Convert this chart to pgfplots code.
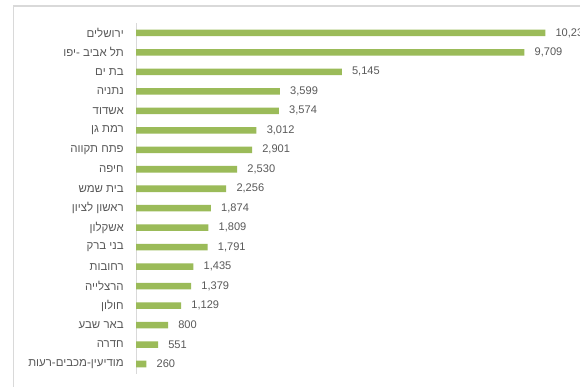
\documentclass[border=0pt]{standalone}
\usepackage{fontspec}
\setmainfont{Liberation Sans}
\newfontfamily\hebfont[Script=Hebrew]{Liberation Sans}
\TeXXeTstate=1
\usepackage{pgfplots}
\pgfplotsset{compat=1.18}
\definecolor{bargreen}{HTML}{9BBB59}
\definecolor{txtgray}{HTML}{595959}
\definecolor{linegray}{HTML}{D9D9D9}
\begin{document}
\begin{tikzpicture}
\useasboundingbox (0,0) rectangle (435pt,289.5pt);
\fill[white] (0,0) rectangle (435pt,289.5pt);
\draw[linegray, line width=0.8pt] (9.9pt,-20pt) -- (9.9pt,285pt) -- (460pt,285pt);
\begin{axis}[
  at={(102pt,9.2pt)}, anchor=south west,
  scale only axis, width=330pt, height=262.9pt,
  xbar, bar width=4.9pt,
  xmin=0, xmax=11000,
  ymin=-0.5, ymax=17.5, y dir=reverse,
  axis x line=none, axis y line=left,
  y axis line style={draw=linegray, -, line width=0.7pt},
  ytick={0,...,17},
  major tick length=0pt,
  yticklabels={
    {\hebfont\beginR ירושלים\endR},
    {\hebfont\beginR תל אביב -יפו\endR},
    {\hebfont\beginR בת ים\endR},
    {\hebfont\beginR נתניה\endR},
    {\hebfont\beginR אשדוד\endR},
    {\hebfont\beginR רמת גן\endR},
    {\hebfont\beginR פתח תקווה\endR},
    {\hebfont\beginR חיפה\endR},
    {\hebfont\beginR בית שמש\endR},
    {\hebfont\beginR ראשון לציון\endR},
    {\hebfont\beginR אשקלון\endR},
    {\hebfont\beginR בני ברק\endR},
    {\hebfont\beginR רחובות\endR},
    {\hebfont\beginR הרצלייה\endR},
    {\hebfont\beginR חולון\endR},
    {\hebfont\beginR באר שבע\endR},
    {\hebfont\beginR חדרה\endR},
    {\hebfont\beginR מודיעין-מכבים-רעות\endR}},
  yticklabel style={font=\fontsize{8.6}{10}\selectfont, text=txtgray, inner sep=0pt, anchor=east, xshift=-9pt},
  nodes near coords,
  nodes near coords style={font=\fontsize{8.3}{10}\selectfont, text=txtgray, anchor=west, inner sep=0pt, xshift=7.5pt,
    /pgf/number format/.cd, 1000 sep={,}, fixed, assume math mode=true},
  /pgf/number format/assume math mode=true,
  clip=false,
]
\addplot[fill=bargreen, draw=none] coordinates {
  (10232,0) (9709,1) (5145,2) (3599,3) (3574,4) (3012,5) (2901,6) (2530,7) (2256,8)
  (1874,9) (1809,10) (1791,11) (1435,12) (1379,13) (1129,14) (800,15) (551,16) (260,17)
};
\end{axis}
\end{tikzpicture}
\end{document}
